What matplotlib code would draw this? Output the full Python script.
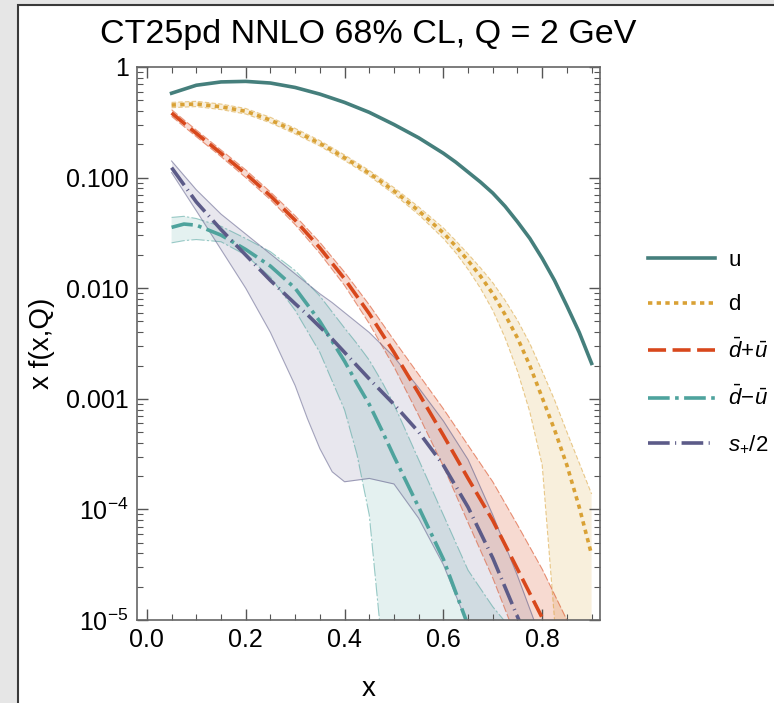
import matplotlib
matplotlib.use('Agg')
import matplotlib.pyplot as plt
import numpy as np
from matplotlib.lines import Line2D
from matplotlib.patches import Rectangle
from matplotlib.ticker import FixedLocator, LogLocator, MultipleLocator, NullFormatter

plt.rcParams['font.family'] = ['Liberation Sans', 'DejaVu Sans']
plt.rcParams['mathtext.fontset'] = 'custom'
plt.rcParams['mathtext.rm'] = 'Liberation Sans'
plt.rcParams['mathtext.it'] = 'Liberation Sans:italic'

# values, stored as log10
x_ud = [0.05, 0.1, 0.15, 0.2, 0.25, 0.3, 0.35, 0.4, 0.45, 0.5, 0.55, 0.6, 0.625, 0.65, 0.675,
        0.7, 0.725, 0.75, 0.775, 0.8, 0.825, 0.85, 0.875, 0.9]
u_log = [-0.237, -0.165, -0.135, -0.13, -0.145, -0.185, -0.245, -0.32, -0.41, -0.52, -0.64, -0.78, -0.86,
         -0.95, -1.04, -1.14, -1.26, -1.4, -1.55, -1.73, -1.93, -2.16, -2.4, -2.68]
d_log = [-0.344, -0.334, -0.36, -0.40, -0.48, -0.58, -0.69, -0.82, -0.96, -1.12, -1.30, -1.5, -1.62,
         -1.75, -1.89, -2.05, -2.24, -2.45, -2.7, -2.99, -3.28, -3.6, -3.98, -4.41]
d_hi = [-0.32, -0.31, -0.335, -0.375, -0.455, -0.555, -0.665, -0.795, -0.935, -1.09, -1.265, -1.455, -1.57,
        -1.69, -1.815, -1.95, -2.11, -2.29, -2.5, -2.75, -3.01, -3.3, -3.58, -3.86]
d_lo = [-0.368, -0.358, -0.385, -0.425, -0.505, -0.605, -0.715, -0.845, -0.985, -1.15, -1.335, -1.55, -1.68,
        -1.83, -2.0, -2.2, -2.45, -2.75, -3.12, -3.6, -5.0, -7.0, -8.0, -9.0]

x_sea = [0.05, 0.1, 0.15, 0.2, 0.25, 0.3, 0.35, 0.4, 0.45, 0.5, 0.55, 0.6, 0.65, 0.7, 0.75, 0.8, 0.85]
dpu_log = [-0.416, -0.6, -0.78, -0.965, -1.165, -1.385, -1.635, -1.915, -2.23, -2.58, -2.95, -3.33, -3.72, -4.1, -4.54, -4.98, -5.5]
dpu_up = [0.03, 0.03, 0.03, 0.035, 0.035, 0.04, 0.05, 0.06, 0.08, 0.11, 0.17, 0.24, 0.3, 0.35, 0.4, 0.44, 0.5]
dpu_down = [0.03, 0.03, 0.03, 0.035, 0.035, 0.04, 0.05, 0.06, 0.09, 0.13, 0.2, 0.28, 0.4, 0.52, 0.65, 0.8, 0.95]

x_dmu = [0.05, 0.075, 0.1, 0.15, 0.2, 0.25, 0.3, 0.35, 0.4, 0.425, 0.45, 0.475, 0.5, 0.55, 0.6, 0.65, 0.7, 0.75]
dmu_log = [-1.45, -1.42, -1.43, -1.52, -1.65, -1.8, -2.0, -2.3, -2.66, -2.86, -3.05, -3.28, -3.52, -3.98, -4.45, -5.05, -5.7, -6.3]
dmu_hi = [-1.36, -1.35, -1.37, -1.44, -1.55, -1.67, -1.84, -2.07, -2.36, -2.5, -2.65, -2.84, -3.05, -3.55, -4.05, -4.55, -4.88, -5.15]
dmu_lo = [-1.59, -1.57, -1.56, -1.58, -1.7, -1.9, -2.2, -2.58, -3.1, -3.5, -4.05, -5.2, -7.0, -8.0, -8.0, -8.0, -8.0, -8.0]

x_s = [0.05, 0.1, 0.15, 0.2, 0.25, 0.3, 0.325, 0.35, 0.375, 0.4, 0.45, 0.5, 0.55, 0.6, 0.65, 0.7, 0.75, 0.8]
s_log = [-0.91, -1.22, -1.47, -1.7, -1.93, -2.14, -2.24, -2.35, -2.46, -2.58, -2.82, -3.05, -3.3, -3.6, -3.98, -4.44, -4.97, -5.5]
s_hi = [-0.85, -1.11, -1.33, -1.51, -1.69, -1.87, -1.96, -2.05, -2.13, -2.22, -2.4, -2.62, -2.9, -3.2, -3.55, -4.05, -4.6, -5.2]
s_lo = [-0.955, -1.3, -1.65, -2.0, -2.4, -2.88, -3.18, -3.45, -3.66, -3.75, -3.72, -3.77, -4.08, -4.5, -5.05, -5.7, -6.5, -7.0]

labels = ['u', 'd', r'$\bar{d}\!+\!\bar{u}$', r'$\bar{d}\!-\!\bar{u}$', r'$s_{+}/2$']
y_ticks = [1e-5, 1e-4, 1e-3, 1e-2, 1e-1, 1]
y_ticklabels = [r'$10^{-5}$', r'$10^{-4}$', '0.001', '0.010', '0.100', '1']

c_u = '#457f7c'
c_d = '#d9a135'
c_dpu = '#d8481c'
c_dmu = '#4ea39d'
c_s = '#5c5b88'

fig = plt.figure(figsize=(7.74, 7.03), dpi=100)
fig.patch.set_facecolor('#e6e6e6')
fig.add_artist(Rectangle((18 / 774, -0.05), 1.0, 1.05 - 5 / 703, transform=fig.transFigure,
                         facecolor='white', edgecolor='#3a3a3a', lw=1.5, zorder=-10))

ax = fig.add_axes([137 / 774, 83 / 703, 463 / 774, 553 / 703])
ax.set_facecolor('none')

def band(x, lo, hi, c, a, dashes):
    x = np.array(x)
    ax.fill_between(x, 10 ** np.array(lo), 10 ** np.array(hi), color=c, alpha=a, lw=0)
    for e in (lo, hi):
        l, = ax.plot(x, 10 ** np.array(e), color=c, lw=0.8, alpha=0.55)
        if dashes:
            l.set_dashes(dashes)

dpu_hi = np.array(dpu_log) + np.array(dpu_up)
dpu_lo = np.array(dpu_log) - np.array(dpu_down)

band(x_ud, d_lo, d_hi, c_d, 0.17, (4, 2))
band(x_sea, dpu_lo, dpu_hi, c_dpu, 0.2, (7, 2))
band(x_dmu, dmu_lo, dmu_hi, c_dmu, 0.15, (12, 2, 2, 2))
band(x_s, s_lo, s_hi, c_s, 0.14, None)

lw = 2.6
ax.plot(x_ud, 10 ** np.array(u_log), color=c_u, lw=lw)
ax.plot(x_ud, 10 ** np.array(d_log), color=c_d, lw=lw, dashes=(1.2, 1.2))
ax.plot(x_sea, 10 ** np.array(dpu_log), color=c_dpu, lw=lw, dashes=(5, 1.8))
ax.plot(x_dmu, 10 ** np.array(dmu_log), color=c_dmu, lw=lw, dashes=(6, 1.5, 1, 1.5))
ax.plot(x_s, 10 ** np.array(s_log), color=c_s, lw=lw, dashes=(6, 1.5, 0.3, 1.5))

ax.set_yscale('log')
ax.set_xlim(-0.02, 0.917)
ax.set_ylim(1e-5, 1)
ax.yaxis.set_major_locator(FixedLocator(y_ticks))
ax.set_yticklabels(y_ticklabels)
ax.yaxis.set_minor_locator(LogLocator(base=10, subs=np.arange(2, 10)))
ax.yaxis.set_minor_formatter(NullFormatter())
ax.xaxis.set_major_locator(FixedLocator([0, 0.2, 0.4, 0.6, 0.8]))
ax.set_xticklabels(['0.0', '0.2', '0.4', '0.6', '0.8'])
ax.xaxis.set_minor_locator(MultipleLocator(0.05))
ax.tick_params(which='both', direction='in', top=True, right=True, color='#555555', labelsize=18, pad=6)
ax.tick_params(which='major', length=8, width=1)
ax.tick_params(which='minor', length=4, width=0.8)
for sp in ax.spines.values():
    sp.set_color('#666666')
    sp.set_linewidth(1.2)

ax.set_xlabel('x', fontsize=20, labelpad=17)
ax.set_ylabel('x f(x,Q)', fontsize=20, labelpad=8)
ax.set_title('CT25pd NNLO 68% CL, Q = 2 GeV', fontsize=24.5, pad=17)

handles = [
    Line2D([], [], color=c_u, lw=lw),
    Line2D([], [], color=c_d, lw=lw, dashes=(1.2, 1.2)),
    Line2D([], [], color=c_dpu, lw=lw, dashes=(5, 1.8)),
    Line2D([], [], color=c_dmu, lw=lw, dashes=(6, 1.5, 1, 1.5)),
    Line2D([], [], color=c_s, lw=lw, dashes=(6, 1.5, 0.3, 1.5)),
]
fig.legend(handles, labels, loc='upper left', bbox_to_anchor=(648 / 774, 1 - 250 / 703),
           frameon=False, fontsize=16, handlelength=3.0, handletextpad=0.6,
           labelspacing=1.05, borderpad=0, borderaxespad=0)

fig.savefig('out.png', dpi=100)
